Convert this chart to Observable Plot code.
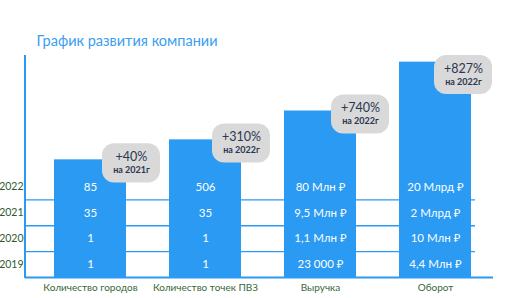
<!DOCTYPE html>
<html>
<head>
<meta charset="utf-8">
<script src="https://cdn.jsdelivr.net/npm/d3@7"></script>
<script src="https://cdn.jsdelivr.net/npm/@observablehq/plot@0.6"></script>
<style>
  html, body { margin: 0; padding: 0; background: #ffffff; }
</style>
</head>
<body>
<div id="chart"></div>
<script>
const titleText = "График развития компании";
const categories = ["Количество городов", "Количество точек ПВЗ", "Выручка", "Оборот"];
const barHeights = [53, 62, 75, 97];
const years = ["2022", "2021", "2020", "2019"];
const values2022 = ["85", "506", "80 Млн ₽", "20 Млрд ₽"];
const values2021 = ["35", "35", "9,5 Млн ₽", "2 Млрд ₽"];
const values2020 = ["1", "1", "1,1 Млн ₽", "10 Млн ₽"];
const values2019 = ["1", "1", "23 000 ₽", "4,4 Млн ₽"];
const growth = ["+40%", "+310%", "+740%", "+827%"];
const growthBase = ["на 2021г", "на 2022г", "на 2022г", "на 2022г"];

// layout
const BLUE = "#2a9af3";
const badgeDx = [41, 36, 40, 28];
const rowsTop = 46.6; // y-units covered by the table rows
const rowValues = {"2022": values2022, "2021": values2021, "2020": values2020, "2019": values2019};

const bars = categories.map((c, i) => ({cat: c, h: barHeights[i], g: growth[i], b: growthBase[i]}));
const rowScale = d3.scaleBand().domain(years).range([rowsTop, 0]);
const cells = years.flatMap(y => categories.map((c, i) => ({cat: c, year: y, label: rowValues[y][i]})));
const rowLines = years.slice(0, 3);

const badgeTop = d => Math.min(d.h + 7.2, 100);
const badgeH = 17.6;

const badgeMarks = bars.flatMap((d, i) => [
  Plot.barY([d], {x: "cat", y1: e => badgeTop(e) - badgeH, y2: badgeTop, fill: "#d9d9d9",
    rx: 12, insetLeft: 7, insetRight: 7, dx: badgeDx[i]}),
  Plot.text([d], {x: "cat", y: badgeTop, dy: 13, dx: badgeDx[i], text: "g",
    fontSize: 12.5, fill: "#2b3650"}),
  Plot.text([d], {x: "cat", y: badgeTop, dy: 26.5, dx: badgeDx[i], text: "b",
    fontSize: 9, fontWeight: 700, fill: "#2b3650"})
]);

const yAxisLine = (index, scales, values, dimensions) => {
  const y = scales.y;
  const line = d3.create("svg:line")
    .attr("x1", dimensions.marginLeft).attr("x2", dimensions.marginLeft)
    .attr("y1", y(100)).attr("y2", y(0) + 1)
    .attr("stroke", BLUE).attr("stroke-width", 2);
  return line.node();
};

const chart = Plot.plot({
  width: 521,
  height: 298,
  marginLeft: 25,
  marginRight: 28,
  marginTop: 0,
  marginBottom: 21,
  style: {fontFamily: "Lato, 'Noto Sans', sans-serif", background: "#ffffff", overflow: "visible"},
  x: {domain: categories, range: [54, 471], paddingInner: 0.374, paddingOuter: 0},
  y: {domain: [0, 100], range: [277, 55], axis: null},
  marks: [
    Plot.text([titleText], {frameAnchor: "top-left", dx: 11, dy: 41, text: d => d,
      fontSize: 14.5, fill: "#3aa0f2", textAnchor: "start", lineAnchor: "middle"}),
    Plot.ruleY(rowLines, {y: d => rowScale(d), stroke: BLUE, strokeWidth: 1.3, insetRight: 18}),
    Plot.barY(bars, {x: "cat", y: "h", fill: BLUE}),
    Plot.ruleY([0], {stroke: BLUE, strokeWidth: 2}),
    yAxisLine,
    Plot.text(cells, {x: "cat", y: d => rowScale(d.year) + rowScale.bandwidth() / 2, text: "label",
      fill: "#ffffff", fontSize: 11.5}),
    Plot.text(years, {frameAnchor: "left", y: d => rowScale(d) + rowScale.bandwidth() / 2, text: d => d,
      dx: -2, textAnchor: "end", fill: "#2f5a30", fontSize: 10.5}),
    ...badgeMarks,
    Plot.axisX({tickSize: 0, tickPadding: 6, fontSize: 10, fill: "#356a38", label: null})
  ]
});

document.getElementById("chart").appendChild(chart);
</script>
</body>
</html>
